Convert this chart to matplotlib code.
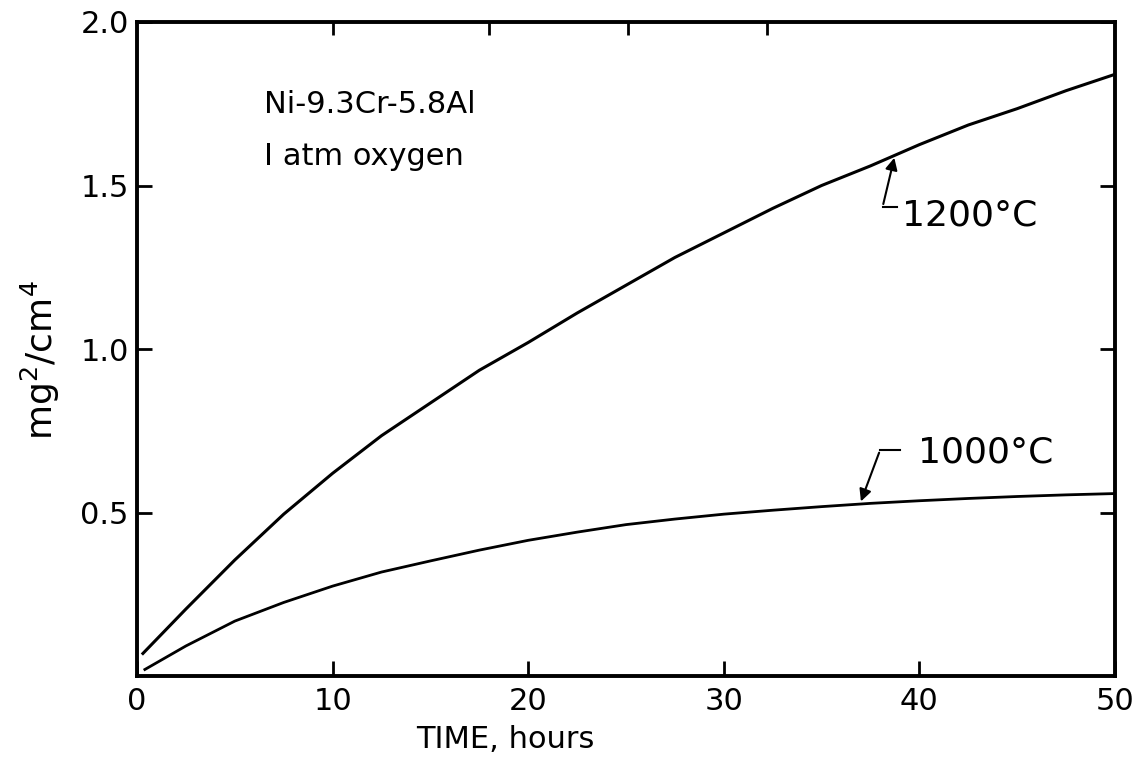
"""Parabolic oxidation curves, Ni-9.3Cr-5.8Al in 1 atm oxygen."""
import matplotlib
matplotlib.use("Agg")
import matplotlib.pyplot as plt

# values
hours_1200 = [0.3, 2.5, 5, 7.5, 10, 12.5, 15, 17.5, 20, 22.5, 25,
              27.5, 30, 32.5, 35, 37.5, 40, 42.5, 45, 47.5, 50]
w2_1200 = [0.069, 0.205, 0.355, 0.495, 0.62, 0.735, 0.835, 0.935, 1.02, 1.11, 1.195,
           1.28, 1.355, 1.43, 1.50, 1.56, 1.625, 1.685, 1.735, 1.79, 1.84]

hours_1000 = [0.4, 2.5, 5, 7.5, 10, 12.5, 15, 17.5, 20, 22.5, 25,
              27.5, 30, 32.5, 35, 37.5, 40, 42.5, 45, 47.5, 50]
w2_1000 = [0.02, 0.092, 0.168, 0.225, 0.275, 0.318, 0.352, 0.385, 0.415, 0.44, 0.463,
           0.48, 0.495, 0.507, 0.518, 0.528, 0.536, 0.543, 0.549, 0.554, 0.558]

x_ticks = [0, 10, 20, 30, 40, 50]
y_ticks = [0.5, 1.0, 1.5, 2.0]
top_ticks = [10, 18, 25.1, 32.2]

FS = 22
plt.rcParams["font.family"] = ["DejaVu Sans"]
plt.rcParams["mathtext.fontset"] = "dejavusans"

fig = plt.figure(figsize=(11.43, 7.69), dpi=100)
ax = fig.add_axes([0.1199, 0.1209, 0.8556, 0.8505])

ax.plot(hours_1200, w2_1200, color="black", linewidth=2.2)
ax.plot(hours_1000, w2_1000, color="black", linewidth=2.0)

ax.set_xlim(0, 50)
ax.set_ylim(0, 2.0)
ax.set_xticks(x_ticks)
ax.set_yticks(y_ticks)
ax.set_xticklabels([str(v) for v in x_ticks])
ax.set_yticklabels([f"{v:.1f}" for v in y_ticks])
ax.tick_params(axis="both", direction="in", length=11, width=2, labelsize=FS)
ax.tick_params(axis="x", pad=8)
ax.tick_params(axis="y", pad=6, right=True)
for s in ax.spines.values():
    s.set_linewidth(2.8)

top = ax.secondary_xaxis("top")
top.set_xticks(top_ticks)
top.tick_params(direction="in", length=9, width=2, labeltop=False)

ax.set_xlabel("TIME, hours", fontsize=FS)
ax.xaxis.set_label_coords(0.377, -0.075)
ax.set_ylabel("mg$^2$/cm$^4$", fontsize=26)
ax.yaxis.set_label_coords(-0.077, 0.483)

ax.text(6.5, 1.722, "Ni-9.3Cr-5.8Al", fontsize=FS, va="baseline")
ax.text(6.5, 1.563, "I atm oxygen", fontsize=FS, va="baseline")

# leaders to the curves
ax.annotate("", xy=(38.75, 1.593), xytext=(38.12, 1.435),
            arrowprops=dict(arrowstyle="-|>", color="black", lw=1.5, mutation_scale=18))
ax.plot([38.12, 38.84], [1.435, 1.435], color="black", lw=1.5)
ax.text(39.1, 1.379, "1200\u00b0C", fontsize=26, va="baseline")

ax.annotate("", xy=(36.96, 0.526), xytext=(37.99, 0.691),
            arrowprops=dict(arrowstyle="-|>", color="black", lw=1.5, mutation_scale=18))
ax.plot([37.99, 39.0], [0.691, 0.691], color="black", lw=1.5)
ax.text(39.93, 0.654, "1000\u00b0C", fontsize=26, va="baseline")

fig.savefig("out.png", dpi=100)
